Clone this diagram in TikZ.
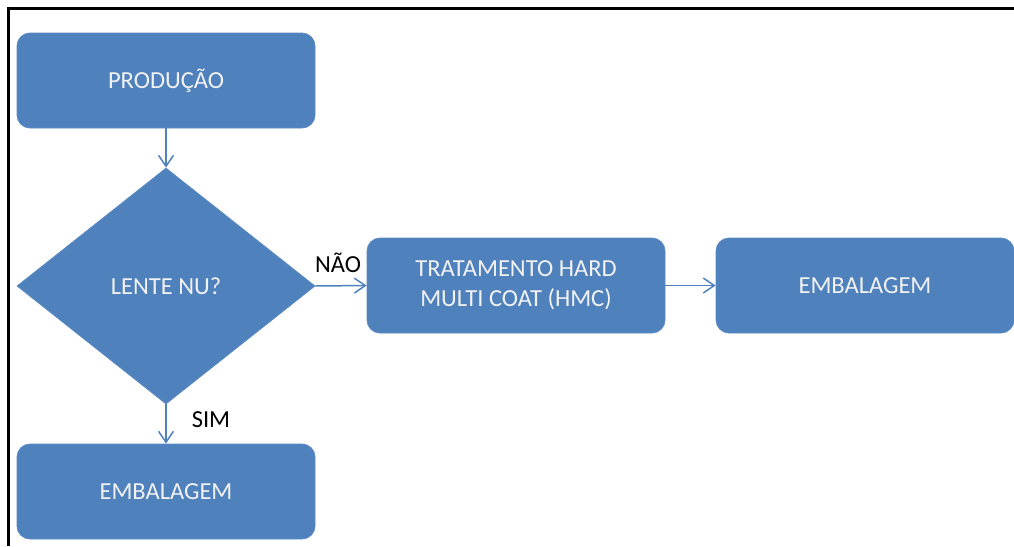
\documentclass[tikz,border=0pt]{standalone}
\usepackage{fontspec}
\setmainfont{Carlito}
\usetikzlibrary{shapes.geometric,arrows.meta}
\definecolor{boxblue}{HTML}{4F81BD}
\definecolor{edgeblue}{HTML}{5A8AC4}
\definecolor{boxtext}{HTML}{F2F2F2}
\tikzset{
  flowbox/.style={rectangle, rounded corners=13pt, fill=boxblue, draw=edgeblue,
    line width=0.8pt, minimum width=298pt, minimum height=95pt, inner sep=0pt,
    text=boxtext, font=\fontsize{24.5}{30}\selectfont, align=center},
  decision/.style={diamond, fill=boxblue, draw=edgeblue, line width=0.8pt,
    minimum width=298pt, minimum height=236pt, inner sep=0pt,
    text=boxtext, font=\fontsize{24.5}{30}\selectfont},
  flow/.style={draw=boxblue, line width=1.5pt,
    -{Straight Barb[length=11pt,width=15pt,line width=1.5pt]}},
  answer/.style={text=black, font=\fontsize{24.5}{28}\selectfont, inner sep=0pt}
}
\begin{document}
\begin{tikzpicture}[x=1pt,y=-1pt]
\useasboundingbox (0,0) rectangle (1014,546);
% frame along the top and left edges
\draw[line width=3pt] (8.5,546) -- (8.5,8.5) -- (1014,8.5);

\node[flowbox] (prod) at (166,80.5) {PRODUÇÃO};
\node[decision] (lente) at (166,286) {LENTE NU?};
\node[flowbox] (hmc) at (516,285.5) {TRATAMENTO HARD\\MULTI COAT (HMC)};
\node[flowbox] (emb1) at (865,285.5) {EMBALAGEM};
\node[flowbox] (emb2) at (166,491.5) {EMBALAGEM};

\draw[flow] (prod) -- (lente);
\draw[flow] (lente.east) -- (hmc.west);
\draw[flow] (hmc) -- (emb1);
\draw[flow] (lente.south) -- (emb2.north);

\node[answer] (nao) at (338,263) {NÃO};
\node[answer] (sim) at (211,420) {SIM};
\end{tikzpicture}
\end{document}
